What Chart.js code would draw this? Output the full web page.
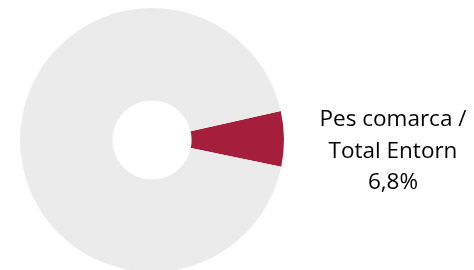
<!DOCTYPE html>
<html>
<head>
<meta charset="utf-8">
<script src="https://cdn.jsdelivr.net/npm/chart.js@4/dist/chart.umd.min.js"></script>
<style>
  html, body { margin: 0; padding: 0; background: #fff; overflow: hidden; }
  #wrap { position: relative; width: 474px; height: 276px; }
</style>
</head>
<body>
<div id="wrap"><canvas id="myChart"></canvas></div>
<script>
const categories = ['Pes comarca / Total Entorn', 'Resta'];
const values = [6.8, 93.2];
const labelLines = ['Pes comarca /', 'Total Entorn', '6,8%'];
const colors = ['#A51E3C', '#EBEBEB'];

// text label next to the red slice
const sliceLabel = {
    id: 'sliceLabel',
    afterDraw(chart) {
        const arc = chart.getDatasetMeta(0).data[0];
        const ctx = chart.ctx;
        const x = arc.x + arc.outerRadius + 109;
        let y = arc.y - 14;
        ctx.save();
        ctx.font = '22.5px "Open Sans"';
        ctx.fillStyle = '#000';
        ctx.textAlign = 'center';
        ctx.textBaseline = 'alphabetic';
        labelLines.forEach(line => {
            ctx.fillText(line, x, y);
            y += 31.5;
        });
        ctx.restore();
    }
};

document.addEventListener('DOMContentLoaded', function() {
    const ctx = document.getElementById('myChart').getContext('2d');
    const total = values.reduce((a, b) => a + b, 0);
    const myChart = new Chart(ctx, {
        type: 'doughnut',
        data: {
            labels: categories,
            datasets: [{
                data: values,
                backgroundColor: colors,
                borderWidth: 0
            }]
        },
        options: {
            responsive: true,
            maintainAspectRatio: false,
            animation: false,
            cutout: '30%',
            rotation: 90 - values[0] / total * 180 - 0.5,
            layout: { padding: { left: 20, right: 190, top: 8, bottom: 4 } },
            plugins: {
                legend: { display: false },
                tooltip: { enabled: false }
            }
        },
        plugins: [sliceLabel]
    });
});
</script>
</body>
</html>
